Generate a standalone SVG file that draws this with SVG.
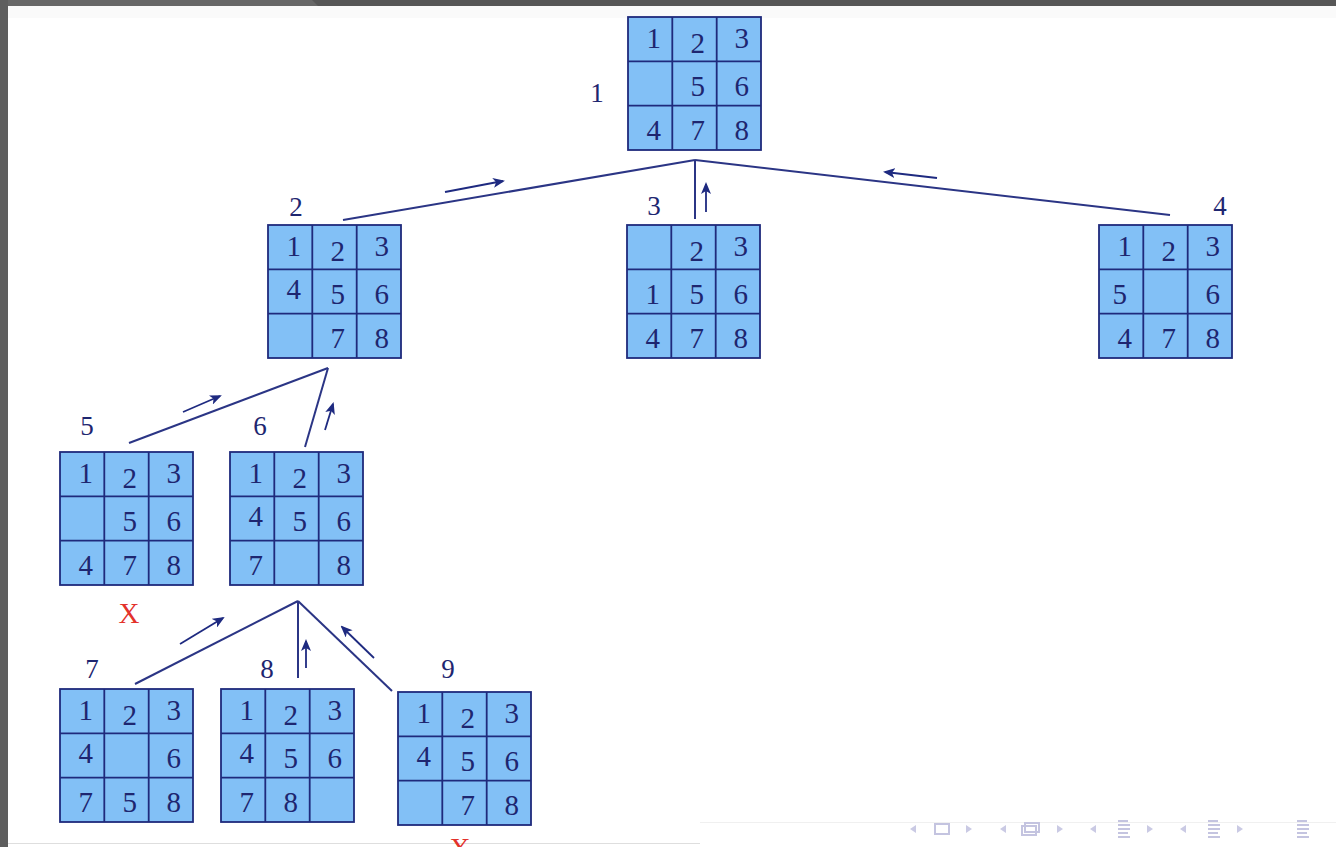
<svg xmlns="http://www.w3.org/2000/svg" width="1336" height="847" viewBox="0 0 1336 847">
  <defs>
    <style>
      .cell{fill:#82c0f6;stroke:#1f2a7c;stroke-width:1.8}
      .grid{stroke:#1f2a7c;stroke-width:1.8;fill:none}
      .d{font-family:"Liberation Serif","Times New Roman",serif;font-size:29px;fill:#1e2670;text-anchor:end}
      .lbl{font-family:"Liberation Serif","Times New Roman",serif;font-size:27px;fill:#1e2670;text-anchor:middle}
      .edge{stroke:#2b3585;stroke-width:2;fill:none}
      .arr{stroke:#1e2a80;stroke-width:1.8;fill:none;marker-end:url(#ah)}
      .bad{font-family:"Liberation Serif","Times New Roman",serif;font-size:29px;fill:#e3322b;text-anchor:middle}
      .nav{fill:#cacae4;stroke:none}
      .navs{fill:none;stroke:#c4c4e0;stroke-width:2}
    </style>
    <marker id="ah" viewBox="0 0 12 10" refX="10" refY="5" markerWidth="12" markerHeight="10" markerUnits="userSpaceOnUse" orient="auto">
      <path d="M0,0 L12,5 L0,10 L3,5 z" fill="#1e2a80"/>
    </marker>
    <g id="g">
      <rect class="cell" x="0" y="0" width="133" height="133"/>
      <path class="grid" d="M44.3,0V133M88.7,0V133M0,44.3H133M0,88.7H133"/>
    </g>
  </defs>

  <!-- window frame -->
  <rect x="0" y="0" width="1336" height="847" fill="#ffffff"/>
  <rect x="0" y="0" width="1336" height="6" fill="#565656"/>
  <polygon points="0,0 312,0 318,6 0,6" fill="#676767"/>
  <rect x="0" y="0" width="8" height="847" fill="#5e5e5e"/>
  <rect x="8" y="6" width="1328" height="12" fill="#fafafa"/>
  <line x1="8" y1="843.5" x2="700" y2="843.5" stroke="#dedede" stroke-width="1"/>
  <line x1="700" y1="822.5" x2="1336" y2="822.5" stroke="#f0f0f0" stroke-width="1"/>

  <!-- connectors -->
  <g id="connectors">
    <line class="edge" x1="695" y1="160" x2="343" y2="220"/>
    <line class="edge" x1="695" y1="160" x2="695" y2="219"/>
    <line class="edge" x1="695" y1="160" x2="1170" y2="215"/>
    <line class="edge" x1="328" y1="368" x2="129" y2="443"/>
    <line class="edge" x1="328" y1="368" x2="305" y2="447"/>
    <line class="edge" x1="298" y1="601" x2="135" y2="684"/>
    <line class="edge" x1="298" y1="601" x2="298" y2="678"/>
    <line class="edge" x1="298" y1="601" x2="392" y2="691"/>

    <line class="arr" x1="445" y1="192" x2="503" y2="181"/>
    <line class="arr" x1="706" y1="212" x2="706" y2="184"/>
    <line class="arr" x1="937" y1="178" x2="885" y2="172"/>
    <line class="arr" x1="183" y1="412" x2="220" y2="396"/>
    <line class="arr" x1="325" y1="430" x2="333" y2="404"/>
    <line class="arr" x1="180" y1="644" x2="223" y2="618"/>
    <line class="arr" x1="306" y1="668" x2="306" y2="641"/>
    <line class="arr" x1="374" y1="658" x2="342" y2="627"/>
  </g>

  <!-- node 1 -->
  <g id="node1">
    <text class="lbl" x="597" y="102">1</text>
    <use href="#g" x="628" y="17"/>
    <g transform="translate(628,17)">
      <text class="d" x="33" y="31">1</text><text class="d" x="77" y="36">2</text><text class="d" x="121" y="31">3</text>
      <text class="d" x="77" y="79">5</text><text class="d" x="121" y="79">6</text>
      <text class="d" x="33" y="123">4</text><text class="d" x="77" y="123">7</text><text class="d" x="121" y="123">8</text>
    </g>
  </g>

  <!-- node 2 -->
  <g id="node2">
    <text class="lbl" x="296" y="216">2</text>
    <use href="#g" x="268" y="225"/>
    <g transform="translate(268,225)">
      <text class="d" x="33" y="31">1</text><text class="d" x="77" y="36">2</text><text class="d" x="121" y="31">3</text>
      <text class="d" x="33" y="74">4</text><text class="d" x="77" y="79">5</text><text class="d" x="121" y="79">6</text>
      <text class="d" x="77" y="123">7</text><text class="d" x="121" y="123">8</text>
    </g>
  </g>

  <!-- node 3 -->
  <g id="node3">
    <text class="lbl" x="654" y="215">3</text>
    <use href="#g" x="627" y="225"/>
    <g transform="translate(627,225)">
      <text class="d" x="77" y="36">2</text><text class="d" x="121" y="31">3</text>
      <text class="d" x="33" y="79">1</text><text class="d" x="77" y="79">5</text><text class="d" x="121" y="79">6</text>
      <text class="d" x="33" y="123">4</text><text class="d" x="77" y="123">7</text><text class="d" x="121" y="123">8</text>
    </g>
  </g>

  <!-- node 4 -->
  <g id="node4">
    <text class="lbl" x="1220" y="215">4</text>
    <use href="#g" x="1099" y="225"/>
    <g transform="translate(1099,225)">
      <text class="d" x="33" y="31">1</text><text class="d" x="77" y="36">2</text><text class="d" x="121" y="31">3</text>
      <text class="d" x="28" y="79">5</text><text class="d" x="121" y="79">6</text>
      <text class="d" x="33" y="123">4</text><text class="d" x="77" y="123">7</text><text class="d" x="121" y="123">8</text>
    </g>
  </g>

  <!-- node 5 -->
  <g id="node5">
    <text class="lbl" x="87" y="435">5</text>
    <use href="#g" x="60" y="452"/>
    <g transform="translate(60,452)">
      <text class="d" x="33" y="31">1</text><text class="d" x="77" y="36">2</text><text class="d" x="121" y="31">3</text>
      <text class="d" x="77" y="79">5</text><text class="d" x="121" y="79">6</text>
      <text class="d" x="33" y="123">4</text><text class="d" x="77" y="123">7</text><text class="d" x="121" y="123">8</text>
    </g>
    <text class="bad" x="129" y="623">X</text>
  </g>

  <!-- node 6 -->
  <g id="node6">
    <text class="lbl" x="260" y="435">6</text>
    <use href="#g" x="230" y="452"/>
    <g transform="translate(230,452)">
      <text class="d" x="33" y="31">1</text><text class="d" x="77" y="36">2</text><text class="d" x="121" y="31">3</text>
      <text class="d" x="33" y="74">4</text><text class="d" x="77" y="79">5</text><text class="d" x="121" y="79">6</text>
      <text class="d" x="33" y="123">7</text><text class="d" x="121" y="123">8</text>
    </g>
  </g>

  <!-- node 7 -->
  <g id="node7">
    <text class="lbl" x="92" y="678">7</text>
    <use href="#g" x="60" y="689"/>
    <g transform="translate(60,689)">
      <text class="d" x="33" y="31">1</text><text class="d" x="77" y="36">2</text><text class="d" x="121" y="31">3</text>
      <text class="d" x="33" y="74">4</text><text class="d" x="121" y="79">6</text>
      <text class="d" x="33" y="123">7</text><text class="d" x="77" y="123">5</text><text class="d" x="121" y="123">8</text>
    </g>
  </g>

  <!-- node 8 -->
  <g id="node8">
    <text class="lbl" x="267" y="678">8</text>
    <use href="#g" x="221" y="689"/>
    <g transform="translate(221,689)">
      <text class="d" x="33" y="31">1</text><text class="d" x="77" y="36">2</text><text class="d" x="121" y="31">3</text>
      <text class="d" x="33" y="74">4</text><text class="d" x="77" y="79">5</text><text class="d" x="121" y="79">6</text>
      <text class="d" x="33" y="123">7</text><text class="d" x="77" y="123">8</text>
    </g>
    <text x="293" y="866" font-family="DejaVu Sans,sans-serif" font-size="28" fill="#3cb23c" text-anchor="middle">✓</text>
  </g>

  <!-- node 9 -->
  <g id="node9">
    <text class="lbl" x="448" y="678">9</text>
    <use href="#g" x="398" y="692"/>
    <g transform="translate(398,692)">
      <text class="d" x="33" y="31">1</text><text class="d" x="77" y="36">2</text><text class="d" x="121" y="31">3</text>
      <text class="d" x="33" y="74">4</text><text class="d" x="77" y="79">5</text><text class="d" x="121" y="79">6</text>
      <text class="d" x="77" y="123">7</text><text class="d" x="121" y="123">8</text>
    </g>
    <text class="bad" x="460" y="858">X</text>
  </g>

  <!-- navigation symbols -->
  <g id="nav">
    <polygon class="nav" points="916,825 910,829 916,833"/>
    <rect class="navs" x="935" y="824" width="14" height="10"/>
    <polygon class="nav" points="966,825 972,829 966,833"/>
    <polygon class="nav" points="1006,825 1000,829 1006,833"/>
    <path class="navs" d="M1025,823h14v9h-14zM1022,826h14v9h-14z" fill="#ffffff"/>
    <polygon class="nav" points="1057,825 1063,829 1057,833"/>
    <polygon class="nav" points="1096,825 1090,829 1096,833"/>
    <path class="navs" d="M1118,821h10M1118,825h12M1118,829h12M1118,833h10M1118,837h12" stroke-width="1.5"/>
    <polygon class="nav" points="1147,825 1153,829 1147,833"/>
    <polygon class="nav" points="1186,825 1180,829 1186,833"/>
    <path class="navs" d="M1208,821h10M1208,825h12M1208,829h12M1208,833h10M1208,837h12" stroke-width="1.5"/>
    <polygon class="nav" points="1237,825 1243,829 1237,833"/>
    <path class="navs" d="M1297,821h10M1297,825h12M1297,829h12M1297,833h10M1297,837h12" stroke-width="1.5"/>
  </g>
</svg>
